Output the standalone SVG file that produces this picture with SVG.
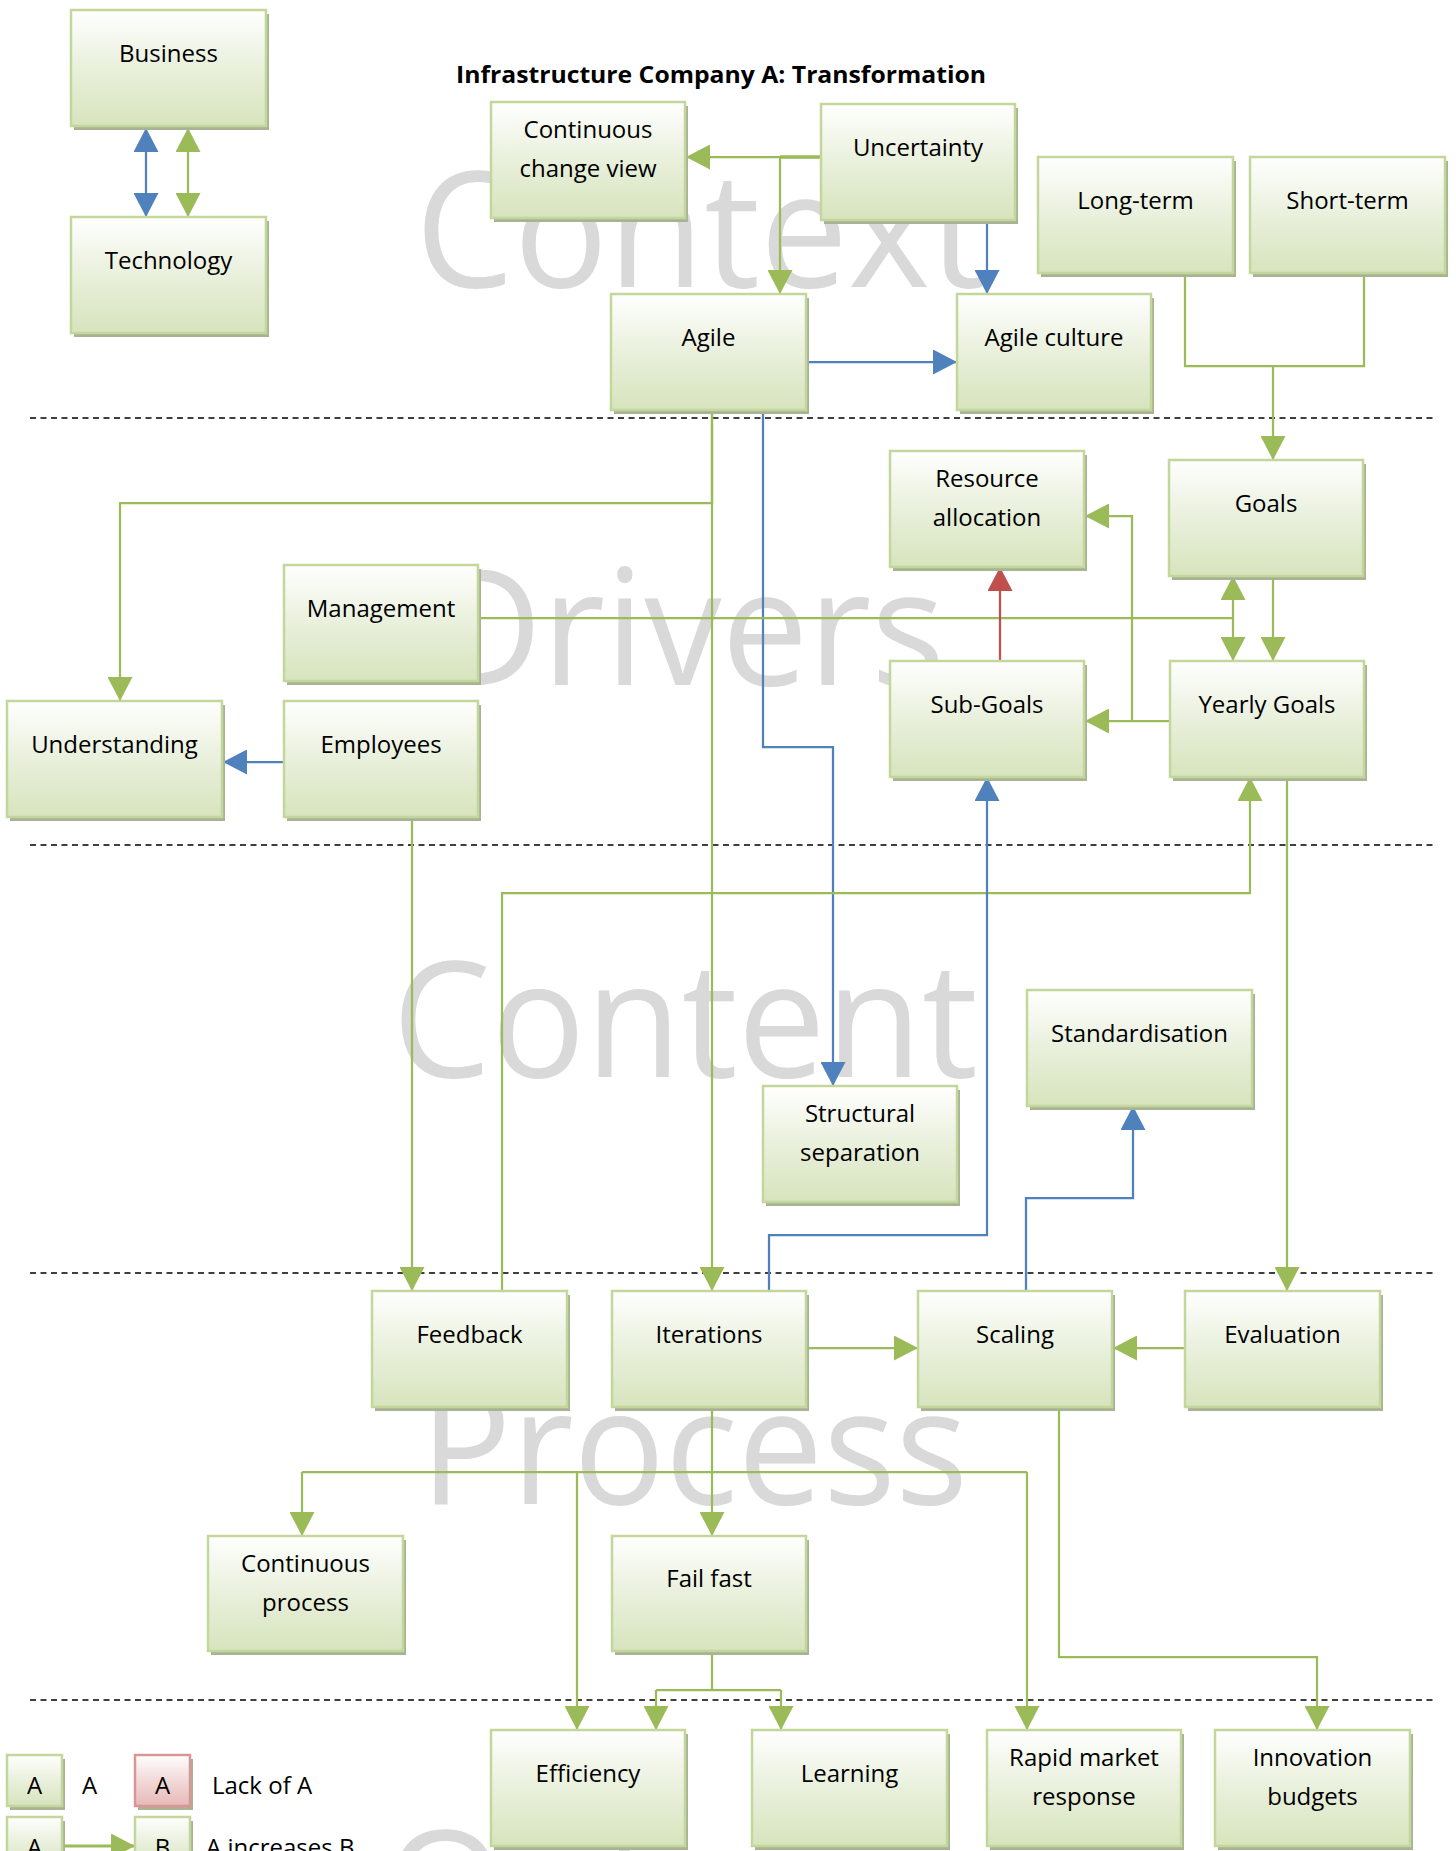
<svg xmlns="http://www.w3.org/2000/svg" width="1456" height="1851" viewBox="0 0 1456 1851">
  <defs>
    <linearGradient id="gg" x1="0" y1="0" x2="0" y2="1">
      <stop offset="0" stop-color="#ffffff"/>
      <stop offset="0.5" stop-color="#e9f0dc"/>
      <stop offset="1" stop-color="#d7e4bd"/>
    </linearGradient>
    <linearGradient id="gr" x1="0" y1="0" x2="0" y2="1">
      <stop offset="0" stop-color="#ffffff"/>
      <stop offset="0.5" stop-color="#f2d9d8"/>
      <stop offset="1" stop-color="#e6b9b8"/>
    </linearGradient>
    <marker id="ag" viewBox="0 0 24 25" markerWidth="24" markerHeight="25" refX="24" refY="12.5" orient="auto-start-reverse" markerUnits="userSpaceOnUse">
      <path d="M0,0 L24,12.5 L0,25 z" fill="#9bbb59"/>
    </marker>
    <marker id="ab" viewBox="0 0 24 25" markerWidth="24" markerHeight="25" refX="24" refY="12.5" orient="auto-start-reverse" markerUnits="userSpaceOnUse">
      <path d="M0,0 L24,12.5 L0,25 z" fill="#4f81bd"/>
    </marker>
    <marker id="ar" viewBox="0 0 24 25" markerWidth="24" markerHeight="25" refX="24" refY="12.5" orient="auto-start-reverse" markerUnits="userSpaceOnUse">
      <path d="M0,0 L24,12.5 L0,25 z" fill="#c0504d"/>
    </marker>
  </defs>
  <style>
    .sh{fill:#a8b394}
    .box{fill:url(#gg);stroke:#c3d69b;stroke-width:2.5}
    .rbox{fill:url(#gr);stroke:#d99694;stroke-width:2.5}
    text{font-family:"Open Sans","Liberation Sans",sans-serif;fill:#000}
    .node text{font-size:24px;text-anchor:middle}
    .wm{font-size:161px;fill:#d9d9d9}
    .title{font-size:23px;font-weight:bold}
    .leg{font-size:24px}
    .sep{stroke:#000;stroke-width:1.5;stroke-dasharray:6 4.5;fill:none}
    .c{fill:none;stroke-width:2.25}
    .g{stroke:#9bbb59}
    .b{stroke:#4f81bd}
    .r{stroke:#c0504d}
    .ge{marker-end:url(#ag)}
    .be{marker-end:url(#ab)}
    .re{marker-end:url(#ar)}
  </style>

  <rect width="1456" height="1851" fill="#ffffff"/>

  <!-- layer names behind the model -->
  <g id="layer-names">
    <text class="wm" x="415" y="287" textLength="571" lengthAdjust="spacingAndGlyphs">Context</text>
    <text class="wm" x="430" y="685" textLength="515" lengthAdjust="spacingAndGlyphs">Drivers</text>
    <text class="wm" x="392" y="1077" textLength="586" lengthAdjust="spacingAndGlyphs">Content</text>
    <text class="wm" x="420" y="1504" textLength="548" lengthAdjust="spacingAndGlyphs">Process</text>
    <text class="wm" x="384" y="1946" textLength="677" lengthAdjust="spacingAndGlyphs">Outcome</text>
  </g>

  <!-- layer separators -->
  <g id="separators">
    <line class="sep" x1="30" y1="418" x2="1436" y2="418"/>
    <line class="sep" x1="30" y1="845" x2="1436" y2="845"/>
    <line class="sep" x1="30" y1="1273" x2="1436" y2="1273"/>
    <line class="sep" x1="30" y1="1700" x2="1436" y2="1700"/>
  </g>

  <text class="title" x="456" y="83" textLength="530" lengthAdjust="spacingAndGlyphs">Infrastructure Company A: Transformation</text>

  <g id="connectors">
    <!-- Business / Technology -->
    <path class="c b be" d="M146,128 L146,217" marker-start="url(#ab)"/>
    <path class="c g ge" d="M188,128 L188,217" marker-start="url(#ag)"/>
    <!-- Uncertainty -->
    <path class="c g ge" d="M821,157 L686,157"/>
    <path class="c g" d="M821,157 L780,157" style="stroke-width:3.5"/>
    <path class="c g ge" d="M780,157 L780,294"/>
    <path class="c b be" d="M987,220 L987,294"/>
    <!-- Agile -->
    <path class="c b be" d="M806,362 L957,362"/>
    <path class="c g ge" d="M712,410 L712,503 L120,503 L120,701"/>
    <path class="c g ge" d="M712,410 L712,1291"/>
    <path class="c b be" d="M763,410 L763,747 L833,747 L833,1086"/>
    <!-- Long-term / Short-term to Goals -->
    <path class="c g" d="M1185,273 L1185,366 L1364,366 L1364,273"/>
    <path class="c g ge" d="M1273,366 L1273,460"/>
    <!-- Management -->
    <path class="c g" d="M478,618 L1233,618"/>
    <path class="c g ge" d="M1233,618 L1233,576"/>
    <path class="c g ge" d="M1233,618 L1233,661"/>
    <!-- Goals / Yearly Goals -->
    <path class="c g ge" d="M1273,576 L1273,661"/>
    <path class="c g ge" d="M1170,721 L1085,721"/>
    <path class="c g ge" d="M1132,721 L1132,516 L1085,516"/>
    <path class="c r re" d="M1000,661 L1000,567"/>
    <!-- Employees -->
    <path class="c b be" d="M284,762 L223,762"/>
    <path class="c g ge" d="M412,817 L412,1291"/>
    <!-- Feedback to Yearly Goals -->
    <path class="c g ge" d="M502,1291 L502,893 L1250,893 L1250,777"/>
    <!-- Iterations to Sub-Goals -->
    <path class="c b be" d="M769,1291 L769,1235 L987,1235 L987,777"/>
    <!-- Scaling to Standardisation -->
    <path class="c b be" d="M1026,1291 L1026,1198 L1133,1198 L1133,1106"/>
    <!-- Yearly Goals to Evaluation -->
    <path class="c g ge" d="M1287,777 L1287,1291"/>
    <!-- Process row -->
    <path class="c g ge" d="M806,1348 L918,1348"/>
    <path class="c g ge" d="M1185,1348 L1113,1348"/>
    <path class="c g ge" d="M712,1407 L712,1536"/>
    <path class="c g" d="M302,1472 L1027,1472"/>
    <path class="c g ge" d="M302,1472 L302,1536"/>
    <path class="c g ge" d="M577,1472 L577,1730"/>
    <path class="c g ge" d="M1027,1472 L1027,1730"/>
    <!-- Fail fast to outcomes -->
    <path class="c g" d="M712,1651 L712,1690 M656,1690 L781,1690"/>
    <path class="c g ge" d="M656,1690 L656,1730"/>
    <path class="c g ge" d="M781,1690 L781,1730"/>
    <!-- Scaling to Innovation budgets -->
    <path class="c g ge" d="M1059,1407 L1059,1657 L1317,1657 L1317,1730"/>
    <!-- legend arrow -->
    <path class="c g ge" d="M62,1846 L135,1846" style="stroke-width:3"/>
  </g>

  <g id="n-business" class="node"><rect class="sh" x="74" y="14" width="195" height="116"/><rect class="box" x="71" y="10" width="195" height="116"/><text x="168.5" y="62">Business</text></g>
  <g id="n-technology" class="node"><rect class="sh" x="74" y="221" width="195" height="116"/><rect class="box" x="71" y="217" width="195" height="116"/><text x="168.5" y="269">Technology</text></g>
  <g id="n-continuous-change-view" class="node"><rect class="sh" x="494" y="106" width="194" height="116"/><rect class="box" x="491" y="102" width="194" height="116"/><text x="588" y="138">Continuous</text><text x="588" y="177">change view</text></g>
  <g id="n-uncertainty" class="node"><rect class="sh" x="824" y="108" width="194" height="116"/><rect class="box" x="821" y="104" width="194" height="116"/><text x="918" y="156">Uncertainty</text></g>
  <g id="n-long-term" class="node"><rect class="sh" x="1041" y="161" width="195" height="116"/><rect class="box" x="1038" y="157" width="195" height="116"/><text x="1135.5" y="209">Long-term</text></g>
  <g id="n-short-term" class="node"><rect class="sh" x="1253" y="161" width="195" height="116"/><rect class="box" x="1250" y="157" width="195" height="116"/><text x="1347.5" y="209">Short-term</text></g>
  <g id="n-agile" class="node"><rect class="sh" x="614" y="298" width="195" height="116"/><rect class="box" x="611" y="294" width="195" height="116"/><text x="708.5" y="346">Agile</text></g>
  <g id="n-agile-culture" class="node"><rect class="sh" x="960" y="298" width="194" height="116"/><rect class="box" x="957" y="294" width="194" height="116"/><text x="1054" y="346">Agile culture</text></g>
  <g id="n-resource-allocation" class="node"><rect class="sh" x="893" y="455" width="194" height="116"/><rect class="box" x="890" y="451" width="194" height="116"/><text x="987" y="487">Resource</text><text x="987" y="526">allocation</text></g>
  <g id="n-goals" class="node"><rect class="sh" x="1172" y="464" width="194" height="116"/><rect class="box" x="1169" y="460" width="194" height="116"/><text x="1266" y="512">Goals</text></g>
  <g id="n-management" class="node"><rect class="sh" x="287" y="569" width="194" height="116"/><rect class="box" x="284" y="565" width="194" height="116"/><text x="381" y="617">Management</text></g>
  <g id="n-sub-goals" class="node"><rect class="sh" x="893" y="665" width="194" height="116"/><rect class="box" x="890" y="661" width="194" height="116"/><text x="987" y="713">Sub-Goals</text></g>
  <g id="n-yearly-goals" class="node"><rect class="sh" x="1173" y="665" width="194" height="116"/><rect class="box" x="1170" y="661" width="194" height="116"/><text x="1267" y="713">Yearly Goals</text></g>
  <g id="n-understanding" class="node"><rect class="sh" x="10" y="705" width="215" height="116"/><rect class="box" x="7" y="701" width="215" height="116"/><text x="114.5" y="753">Understanding</text></g>
  <g id="n-employees" class="node"><rect class="sh" x="287" y="705" width="194" height="116"/><rect class="box" x="284" y="701" width="194" height="116"/><text x="381" y="753">Employees</text></g>
  <g id="n-standardisation" class="node"><rect class="sh" x="1030" y="994" width="225" height="116"/><rect class="box" x="1027" y="990" width="225" height="116"/><text x="1139.5" y="1042">Standardisation</text></g>
  <g id="n-structural-separation" class="node"><rect class="sh" x="766" y="1090" width="194" height="116"/><rect class="box" x="763" y="1086" width="194" height="116"/><text x="860" y="1122">Structural</text><text x="860" y="1161">separation</text></g>
  <g id="n-feedback" class="node"><rect class="sh" x="375" y="1295" width="195" height="116"/><rect class="box" x="372" y="1291" width="195" height="116"/><text x="469.5" y="1343">Feedback</text></g>
  <g id="n-iterations" class="node"><rect class="sh" x="615" y="1295" width="194" height="116"/><rect class="box" x="612" y="1291" width="194" height="116"/><text x="709" y="1343">Iterations</text></g>
  <g id="n-scaling" class="node"><rect class="sh" x="921" y="1295" width="194" height="116"/><rect class="box" x="918" y="1291" width="194" height="116"/><text x="1015" y="1343">Scaling</text></g>
  <g id="n-evaluation" class="node"><rect class="sh" x="1188" y="1295" width="195" height="116"/><rect class="box" x="1185" y="1291" width="195" height="116"/><text x="1282.5" y="1343">Evaluation</text></g>
  <g id="n-continuous-process" class="node"><rect class="sh" x="211" y="1540" width="195" height="115"/><rect class="box" x="208" y="1536" width="195" height="115"/><text x="305.5" y="1572">Continuous</text><text x="305.5" y="1611">process</text></g>
  <g id="n-fail-fast" class="node"><rect class="sh" x="615" y="1540" width="194" height="115"/><rect class="box" x="612" y="1536" width="194" height="115"/><text x="709" y="1587">Fail fast</text></g>
  <g id="n-efficiency" class="node"><rect class="sh" x="494" y="1734" width="194" height="116"/><rect class="box" x="491" y="1730" width="194" height="116"/><text x="588" y="1782">Efficiency</text></g>
  <g id="n-learning" class="node"><rect class="sh" x="755" y="1734" width="195" height="116"/><rect class="box" x="752" y="1730" width="195" height="116"/><text x="849.5" y="1782">Learning</text></g>
  <g id="n-rapid-market-response" class="node"><rect class="sh" x="990" y="1734" width="194" height="116"/><rect class="box" x="987" y="1730" width="194" height="116"/><text x="1084" y="1766">Rapid market</text><text x="1084" y="1805">response</text></g>
  <g id="n-innovation-budgets" class="node"><rect class="sh" x="1218" y="1734" width="195" height="116"/><rect class="box" x="1215" y="1730" width="195" height="116"/><text x="1312.5" y="1766">Innovation</text><text x="1312.5" y="1805">budgets</text></g>

  <!-- legend -->
  <g id="legend">
    <g id="legend-a" class="node"><rect class="sh" x="10" y="1759" width="55" height="51"/><rect class="box" x="7" y="1755" width="55" height="51"/><text x="34.5" y="1794">A</text></g>
    <text class="leg" x="82" y="1794">A</text>
    <g id="legend-lack" class="node"><rect class="sh" x="138" y="1759" width="55" height="51"/><rect class="rbox" x="135" y="1755" width="55" height="51"/><text x="162.5" y="1794">A</text></g>
    <text class="leg" x="212" y="1794">Lack of A</text>
    <g id="legend-a2" class="node"><rect class="sh" x="10" y="1821" width="55" height="51"/><rect class="box" x="7" y="1817" width="55" height="51"/><text x="34.5" y="1856">A</text></g>
    <g id="legend-b" class="node"><rect class="sh" x="138" y="1821" width="55" height="51"/><rect class="box" x="135" y="1817" width="55" height="51"/><text x="162.5" y="1856">B</text></g>
    <text class="leg" x="206" y="1856">A increases B</text>
  </g>
</svg>
